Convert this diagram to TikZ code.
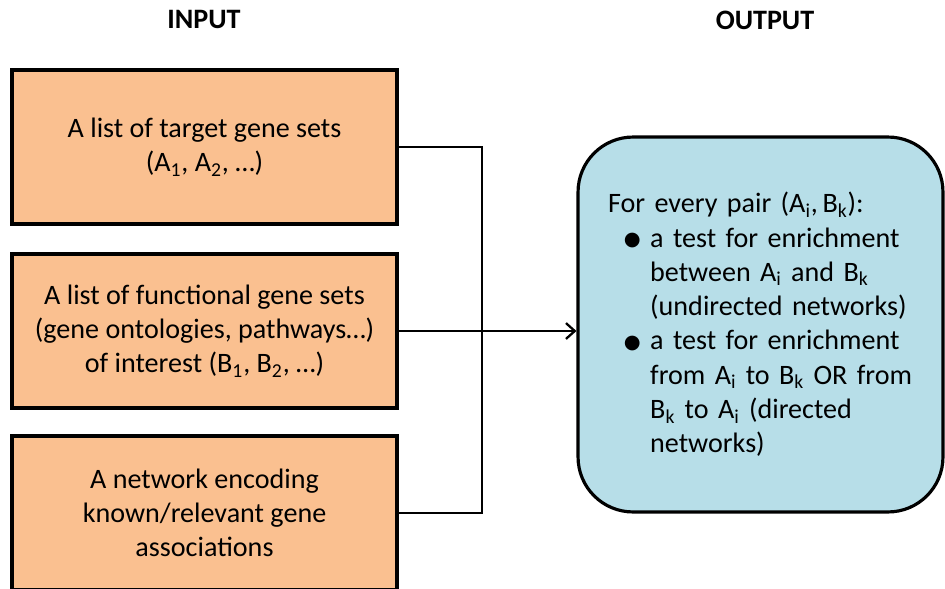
\documentclass[tikz,border=0pt]{standalone}
\usepackage{fontspec}
\setmainfont{Carlito}
\newfontfamily\symfont{DejaVu Sans}
\usetikzlibrary{arrows.meta}
\definecolor{inorange}{HTML}{FAC090}
\definecolor{outblue}{HTML}{B7DEE8}
\newcommand{\sub}[1]{\textsubscript{#1}}
\newcommand{\bul}{\makebox[24pt][l]{\hspace{9pt}\raisebox{1pt}{\symfont\fontsize{11}{11}\selectfont ●}}}
\newcommand{\ind}{\hspace*{24pt}}
\tikzset{
  inbox/.style={draw, line width=1.8pt, fill=inorange, minimum width=7.7cm,
    minimum height=3.08cm, align=center, font=\fontsize{16}{19.5}\selectfont},
  outbox/.style={draw, line width=1.8pt, fill=outblue, rounded corners=1.1cm,
    minimum width=7.3cm, minimum height=7.5cm, inner xsep=0.6cm, text width=6.1cm,
    align=left, font=\fontsize{16}{19.5}\selectfont},
  title/.style={font=\bfseries\fontsize{16}{18}\selectfont},
  conn/.style={line width=1.3pt}
}
\begin{document}
\begin{tikzpicture}[x=0.02cm,y=-0.02cm]
   \useasboundingbox (0,0) rectangle (945,588);
   % titles
   \node [title] (intitle) at (204,19) {INPUT};
   \node [title] (outtitle) at (765,20) {OUTPUT};
   % input boxes
   \node [inbox] (targets) at (204.5,147) {A list of target gene sets\\(A\sub{1}, A\sub{2}, …)};
   \node [inbox] (functional) at (204.5,331) {A list of functional gene sets\\(gene ontologies, pathways…)\\of interest (B\sub{1}, B\sub{2}, …)};
   \node [inbox] (network) at (204.5,513) {A network encoding\\known/relevant gene\\associations};
   % output box
   \node [outbox] (result) at (760.5,324.5) {For every pair (A\sub{i},\,B\sub{k}):\\
     \bul a test for enrichment\\
     \ind between A\sub{i} and B\sub{k}\\
     \ind (undirected networks)\\
     \bul a test for enrichment\\
     \ind from A\sub{i} to B\sub{k} OR from\\
     \ind B\sub{k} to A\sub{i} (directed\\
     \ind networks)};
   % connectors
   \coordinate (join) at (482,331);
   \draw [conn] (targets.east) -| (join) |- (network.east);
   \draw [conn,-{Straight Barb[length=5pt,width=9pt]}] (functional.east) -- (functional.east -| result.west);
  \end{tikzpicture}
\end{document}
